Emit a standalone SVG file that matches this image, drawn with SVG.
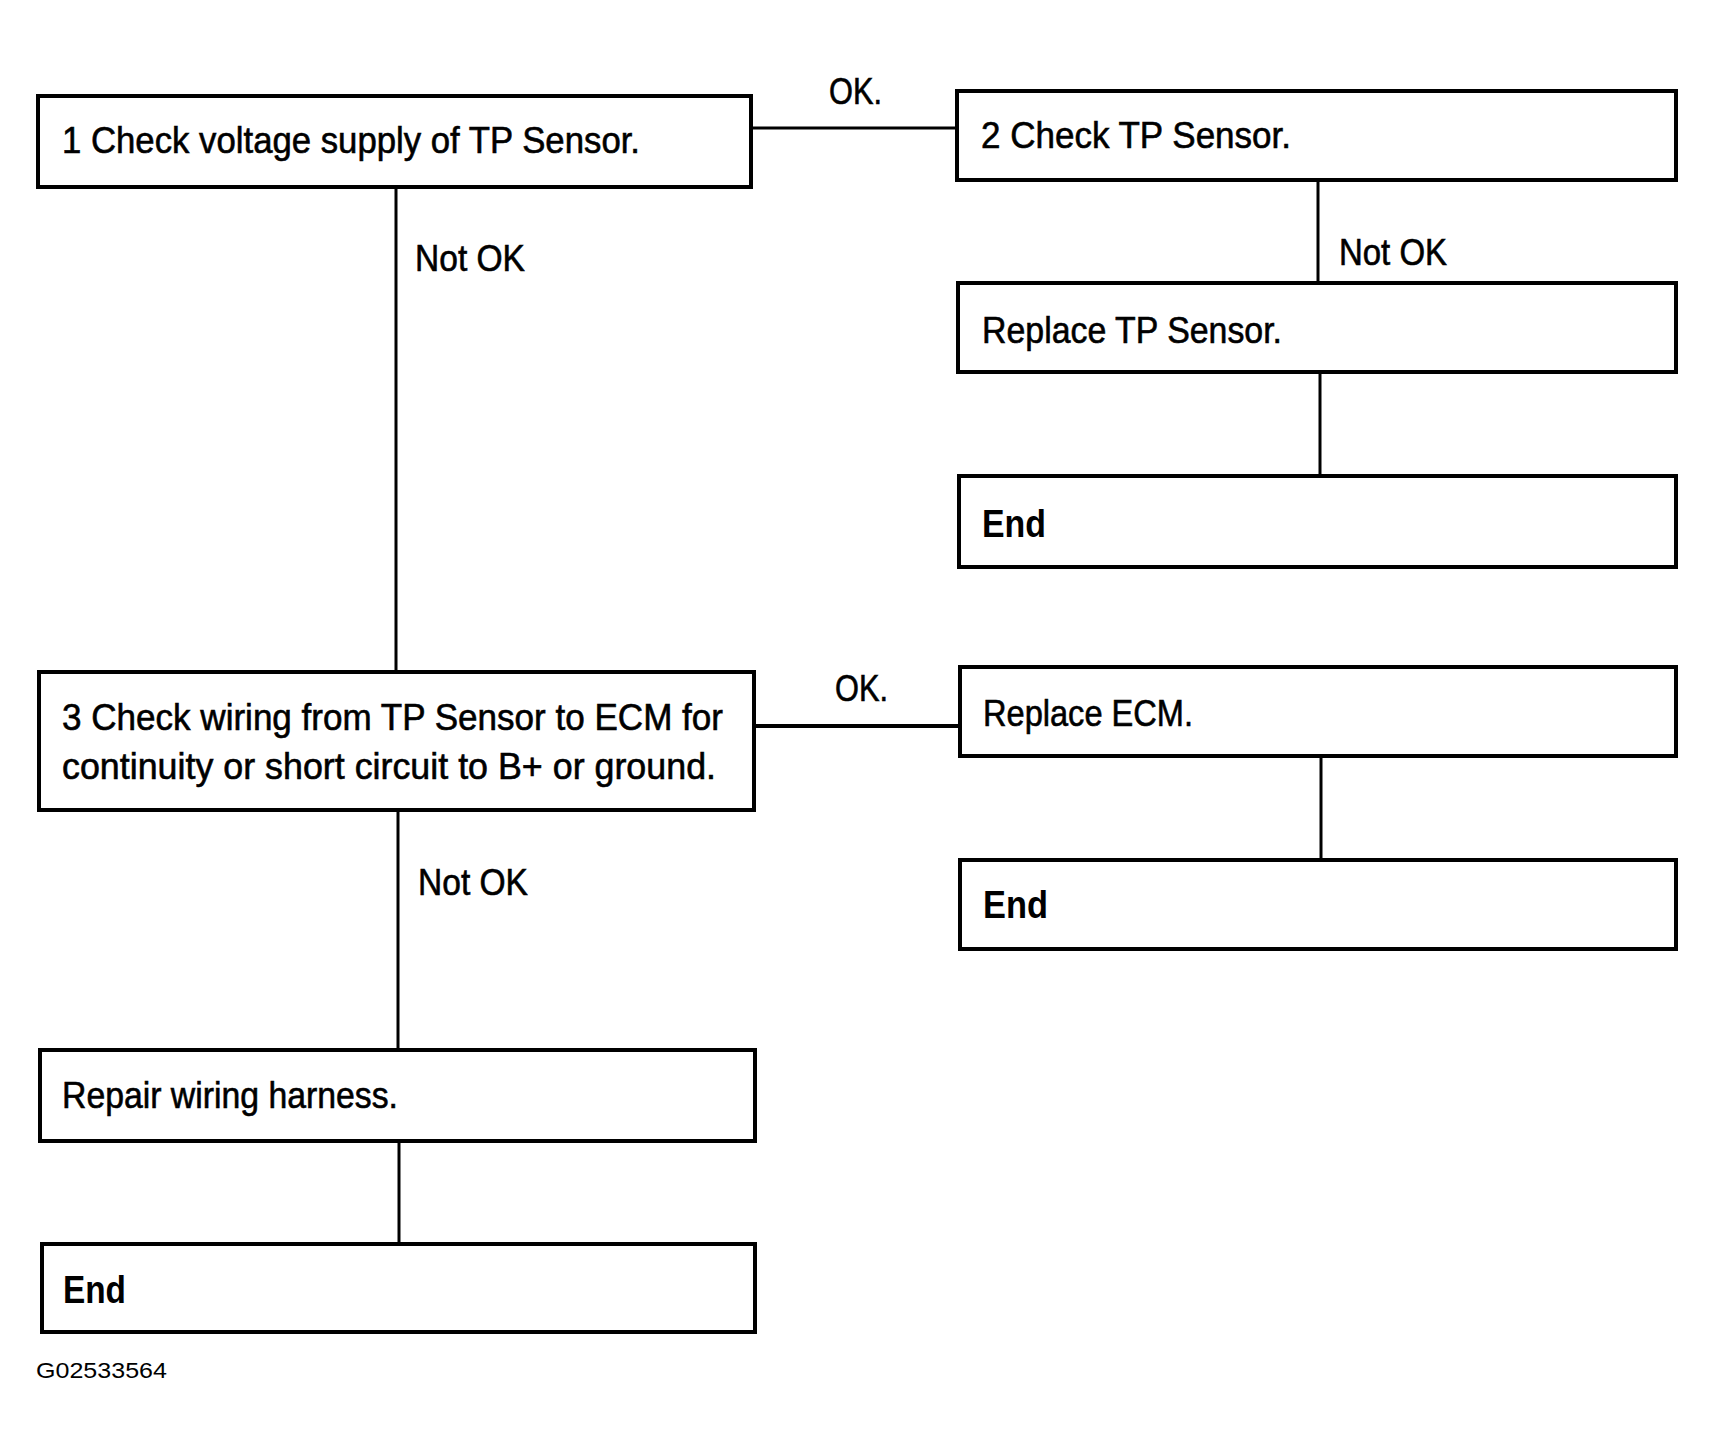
<svg xmlns="http://www.w3.org/2000/svg" width="1715" height="1455" viewBox="0 0 1715 1455">
<style>
.box{fill:#fff;stroke:#000;stroke-width:4}
.t{font-family:"Liberation Sans",Arial,sans-serif;font-size:37px;fill:#000;stroke:#000;stroke-width:0.6}
.b{font-family:"Liberation Sans",Arial,sans-serif;font-size:38px;font-weight:bold;fill:#000}
.c{stroke:#000;stroke-width:3;fill:none}
.id{font-family:"Liberation Sans",Arial,sans-serif;font-size:22px;fill:#000}
</style>
<rect width="1715" height="1455" fill="#fff"/>
<g id="connectors">
<line class="c" x1="751" y1="128" x2="957" y2="128"/>
<line class="c" x1="396" y1="187" x2="396" y2="672"/>
<line class="c" x1="1318" y1="180" x2="1318" y2="283"/>
<line class="c" x1="1320" y1="372" x2="1320" y2="476"/>
<line class="c" x1="754" y1="726" x2="960" y2="726" style="stroke-width:4"/>
<line class="c" x1="398" y1="810" x2="398" y2="1050"/>
<line class="c" x1="1321" y1="756" x2="1321" y2="860"/>
<line class="c" x1="399" y1="1141" x2="399" y2="1244"/>
<text class="t" x="829" y="104" textLength="53" lengthAdjust="spacingAndGlyphs">OK.</text>
<text class="t" x="835" y="701" textLength="53" lengthAdjust="spacingAndGlyphs">OK.</text>
<text class="t" x="415" y="271" textLength="110" lengthAdjust="spacingAndGlyphs">Not OK</text>
<text class="t" x="1339" y="265" textLength="108" lengthAdjust="spacingAndGlyphs">Not OK</text>
<text class="t" x="418" y="895" textLength="110" lengthAdjust="spacingAndGlyphs">Not OK</text>
</g>
<g id="n1"><rect class="box" x="38" y="96" width="713" height="91"/>
<text class="t" x="62" y="153" textLength="578" lengthAdjust="spacingAndGlyphs">1 Check voltage supply of TP Sensor.</text></g>
<g id="n2"><rect class="box" x="957" y="91" width="719" height="89"/>
<text class="t" x="981" y="148" textLength="310" lengthAdjust="spacingAndGlyphs">2 Check TP Sensor.</text></g>
<g id="n3"><rect class="box" x="958" y="283" width="718" height="89"/>
<text class="t" x="982" y="343" textLength="300" lengthAdjust="spacingAndGlyphs">Replace TP Sensor.</text></g>
<g id="n4"><rect class="box" x="959" y="476" width="717" height="91"/>
<text class="b" x="982" y="537" textLength="64" lengthAdjust="spacingAndGlyphs">End</text></g>
<g id="n5"><rect class="box" x="39" y="672" width="715" height="138"/>
<text class="t" x="62" y="730" textLength="661" lengthAdjust="spacingAndGlyphs">3 Check wiring from TP Sensor to ECM for</text>
<text class="t" x="62" y="779" textLength="654" lengthAdjust="spacingAndGlyphs">continuity or short circuit to B+ or ground.</text></g>
<g id="n6"><rect class="box" x="960" y="667" width="716" height="89"/>
<text class="t" x="983" y="726" textLength="210" lengthAdjust="spacingAndGlyphs">Replace ECM.</text></g>
<g id="n7"><rect class="box" x="960" y="860" width="716" height="89"/>
<text class="b" x="983" y="918" textLength="65" lengthAdjust="spacingAndGlyphs">End</text></g>
<g id="n8"><rect class="box" x="40" y="1050" width="715" height="91"/>
<text class="t" x="62" y="1108" textLength="336" lengthAdjust="spacingAndGlyphs">Repair wiring harness.</text></g>
<g id="n9"><rect class="box" x="42" y="1244" width="713" height="88"/>
<text class="b" x="63" y="1303" textLength="63" lengthAdjust="spacingAndGlyphs">End</text></g>
<text class="id" x="36" y="1378" textLength="131" lengthAdjust="spacingAndGlyphs">G02533564</text>
</svg>
